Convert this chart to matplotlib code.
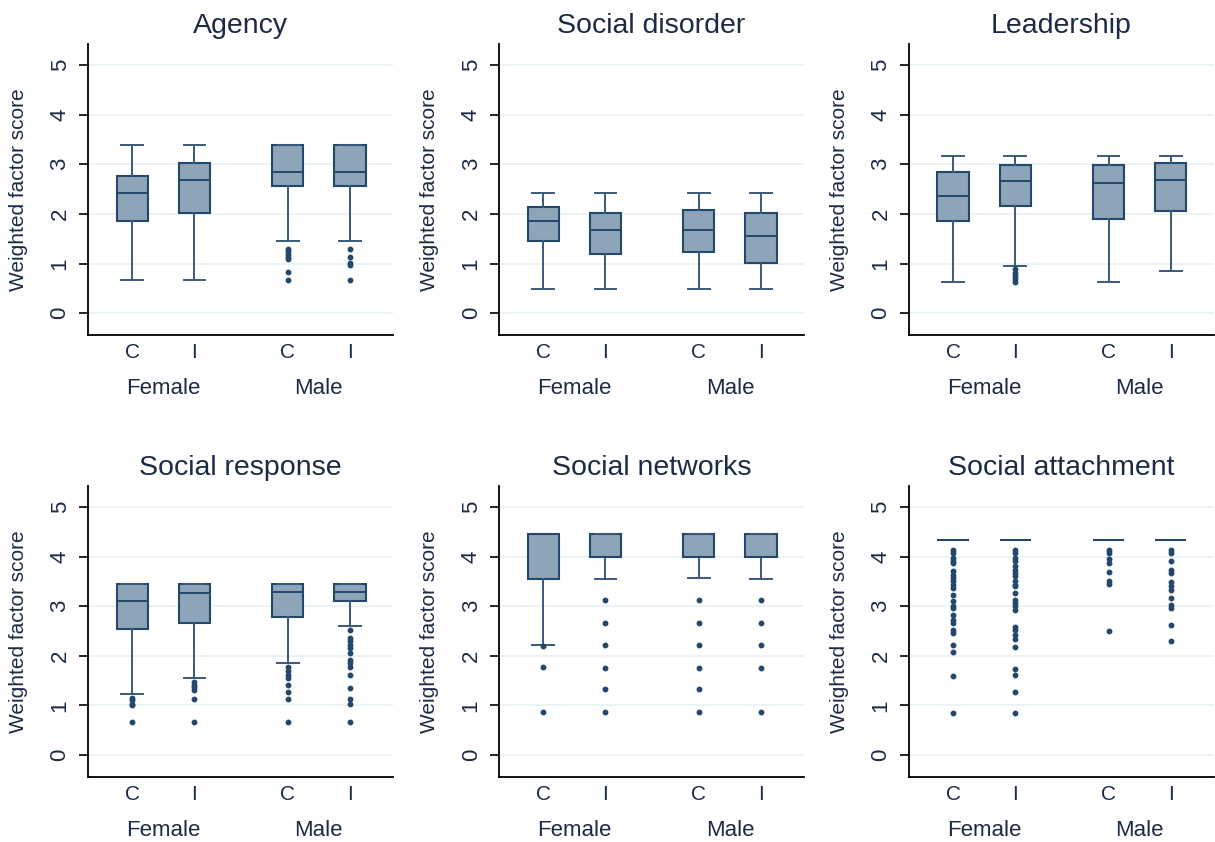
import matplotlib
matplotlib.use("Agg")
import matplotlib.pyplot as plt
import matplotlib.transforms as mtransforms

plt.rcParams['font.family'] = ['Liberation Sans', 'DejaVu Sans']

titles = ["Agency", "Social disorder", "Leadership",
          "Social response", "Social networks", "Social attachment"]
groups = ["Female", "Male"]
tick_labels = ["C", "I", "C", "I"]
positions = [1, 2, 3.5, 4.5]

# box statistics per panel: Female C, Female I, Male C, Male I
agency_lo = [0.67, 0.67, 1.46, 1.46]
agency_q1 = [1.86, 2.01, 2.57, 2.57]
agency_med = [2.42, 2.69, 2.85, 2.85]
agency_q3 = [2.76, 3.03, 3.38, 3.38]
agency_hi = [3.38, 3.38, 3.38, 3.38]
agency_out = [[], [],
              [1.29, 1.25, 1.2, 1.14, 1.1, 0.83, 0.67],
              [1.29, 1.14, 1.01, 0.98, 0.67]]

disorder_lo = [0.49, 0.49, 0.49, 0.49]
disorder_q1 = [1.46, 1.20, 1.24, 1.02]
disorder_med = [1.86, 1.68, 1.68, 1.55]
disorder_q3 = [2.13, 2.01, 2.07, 2.01]
disorder_hi = [2.42, 2.42, 2.42, 2.42]
disorder_out = [[], [], [], []]

leader_lo = [0.62, 0.96, 0.62, 0.86]
leader_q1 = [1.86, 2.17, 1.89, 2.05]
leader_med = [2.36, 2.66, 2.63, 2.69]
leader_q3 = [2.85, 2.98, 2.98, 3.03]
leader_hi = [3.16, 3.16, 3.16, 3.16]
leader_out = [[], [0.89, 0.82, 0.75, 0.69, 0.62], [], []]

response_lo = [1.24, 1.55, 1.86, 2.61]
response_q1 = [2.54, 2.66, 2.79, 3.10]
response_med = [3.10, 3.26, 3.28, 3.28]
response_q3 = [3.45, 3.45, 3.45, 3.45]
response_hi = [3.45, 3.45, 3.45, 3.45]
response_out = [[1.16, 1.11, 1.04, 1.0, 0.67],
                [1.48, 1.41, 1.37, 1.31, 1.14, 0.67],
                [1.78, 1.70, 1.62, 1.55, 1.41, 1.27, 1.14, 0.67],
                [2.53, 2.36, 2.29, 2.22, 2.15, 2.05, 1.92, 1.85, 1.78,
                 1.62, 1.35, 1.14, 1.04, 0.67]]

networks_lo = [2.22, 3.54, 3.57, 3.54]
networks_q1 = [3.54, 4.0, 4.0, 4.0]
networks_med = [4.46, 4.0, 4.0, 4.0]
networks_q3 = [4.46, 4.46, 4.46, 4.46]
networks_hi = [4.46, 4.46, 4.46, 4.46]
networks_out = [[2.20, 1.78, 0.87],
                [3.12, 2.66, 2.21, 1.76, 1.33, 0.87],
                [3.12, 2.66, 2.21, 1.76, 1.33, 0.87],
                [3.12, 2.66, 2.21, 1.76, 0.87]]

attach_lo = [4.33, 4.33, 4.33, 4.33]
attach_q1 = [4.33, 4.33, 4.33, 4.33]
attach_med = [4.33, 4.33, 4.33, 4.33]
attach_q3 = [4.33, 4.33, 4.33, 4.33]
attach_hi = [4.33, 4.33, 4.33, 4.33]
attach_out = [[4.14, 4.07, 3.97, 3.90, 3.86, 3.70, 3.63, 3.57, 3.50, 3.43,
               3.36, 3.23, 3.10, 3.0, 2.97, 2.83, 2.73, 2.66, 2.52, 2.46,
               2.21, 2.08, 1.6, 0.85],
              [4.14, 4.07, 3.97, 3.90, 3.80, 3.73, 3.66, 3.60, 3.50, 3.43,
               3.40, 3.26, 3.13, 3.06, 3.00, 2.93, 2.59, 2.52, 2.42, 2.34,
               2.17, 1.73, 1.62, 1.28, 0.85],
              [4.14, 4.07, 3.94, 3.86, 3.69, 3.50, 3.45, 2.51],
              [4.14, 4.07, 3.90, 3.73, 3.66, 3.48, 3.40, 3.33, 3.16, 3.03,
               2.97, 2.62, 2.29]]

panels = [
    (agency_lo, agency_q1, agency_med, agency_q3, agency_hi, agency_out),
    (disorder_lo, disorder_q1, disorder_med, disorder_q3, disorder_hi, disorder_out),
    (leader_lo, leader_q1, leader_med, leader_q3, leader_hi, leader_out),
    (response_lo, response_q1, response_med, response_q3, response_hi, response_out),
    (networks_lo, networks_q1, networks_med, networks_q3, networks_hi, networks_out),
    (attach_lo, attach_q1, attach_med, attach_q3, attach_hi, attach_out),
]

line_col = "#24486c"
whisk_col = "#3a5a7c"
fill_col = "#8ea4b8"
text_col = "#1c2b45"

fig = plt.figure(figsize=(12.15, 8.42), dpi=100)

lefts = [0.0724, 0.4107, 0.748]
bottoms = [0.602, 0.0772]
w, h = 0.251, 0.3456

for k, (title, data) in enumerate(zip(titles, panels)):
    ax = fig.add_axes([lefts[k % 3], bottoms[k // 3], w, h])
    lo, q1, med, q3, hi, out = data
    stats = []
    for i in range(4):
        stats.append({"whislo": lo[i], "q1": q1[i], "med": med[i],
                      "q3": q3[i], "whishi": hi[i], "fliers": out[i]})
    ax.bxp(stats, positions=positions, widths=0.5, capwidths=0.35,
           patch_artist=True,
           boxprops=dict(facecolor=fill_col, edgecolor=line_col, linewidth=1.5),
           whiskerprops=dict(color=whisk_col, linewidth=1.4),
           capprops=dict(color=whisk_col, linewidth=1.4),
           medianprops=dict(color=line_col, linewidth=1.4),
           flierprops=dict(marker="o", markersize=3.2, markerfacecolor=line_col,
                           markeredgecolor=line_col, linestyle="none"))

    ax.set_xlim(0.29, 5.19)
    ax.set_ylim(-0.44, 5.42)
    ax.set_yticks([0, 1, 2, 3, 4, 5])
    for yv in [0, 1, 2, 3, 4, 5]:
        ax.axhline(yv, color="#e9f1f3", linewidth=1.2, zorder=0)
    ax.set_xticks(positions)
    ax.set_xticklabels(tick_labels)
    ax.tick_params(axis="x", length=0, pad=6, labelsize=15, labelcolor=text_col)
    ax.tick_params(axis="y", length=6.5, width=1.2, pad=6, labelsize=16,
                   labelcolor=text_col, labelrotation=90)
    for lab in ax.get_yticklabels():
        lab.set_va("center")
    ax.spines["top"].set_visible(False)
    ax.spines["right"].set_visible(False)
    ax.spines["left"].set_linewidth(1.3)
    ax.spines["bottom"].set_linewidth(1.3)
    ax.set_ylabel("Weighted factor score", fontsize=15, color=text_col)
    ax.yaxis.set_label_coords(-0.197, 0.5)
    ax.set_title(title, fontsize=20.5, color=text_col, pad=8)

    trans = mtransforms.blended_transform_factory(ax.transData, ax.transAxes)
    ax.text(1.5, -0.183, groups[0], transform=trans, ha="center", va="center",
            fontsize=16, color=text_col)
    ax.text(4.0, -0.183, groups[1], transform=trans, ha="center", va="center",
            fontsize=16, color=text_col)

fig.savefig("out.png", dpi=100)
